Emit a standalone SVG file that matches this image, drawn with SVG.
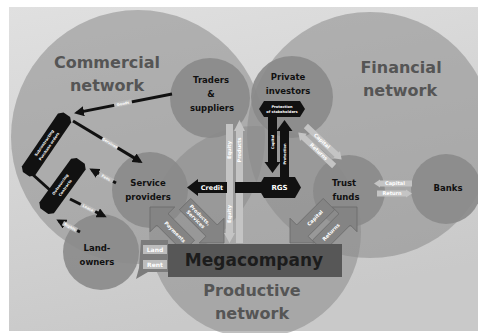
<svg xmlns="http://www.w3.org/2000/svg" width="478" height="333" viewBox="0 0 478 333">
<defs>
<linearGradient id="bg" x1="0" y1="0" x2="0.3" y2="1">
<stop offset="0" stop-color="#e0e0e0"/>
<stop offset="1" stop-color="#c9c9c9"/>
</linearGradient>
<marker id="ah" markerUnits="userSpaceOnUse" markerWidth="10" markerHeight="10" refX="7" refY="5" orient="auto">
<path d="M0,0 L10,5 L0,10 Z" fill="#111"/>
</marker>
<path id="blk" d="M0,0 L-17.5,-17.5 L-17.5,-8 L-55,-8 L-55,8 L-17.5,8 L-17.5,17.5 Z"/>
<style>
.net{font-family:"DejaVu Sans",sans-serif;font-weight:bold;font-size:16px;fill:#555;text-anchor:middle}
.nd{font-family:"DejaVu Sans",sans-serif;font-weight:bold;font-size:8.5px;fill:#111;text-anchor:middle}
.wl{font-family:"DejaVu Sans",sans-serif;font-weight:bold;font-size:5px;fill:#fff;text-anchor:middle}
.tn{font-family:"DejaVu Sans",sans-serif;font-weight:bold;font-size:3.6px;fill:#fff;text-anchor:middle}
.netc{fill:#8a8a8a;fill-opacity:0.55}
.nodec{fill:#8a8a8a;fill-opacity:0.9}
.blk{fill:#848484;stroke:#6a6a6a;stroke-width:0.8}
.lt{fill:#c4c4c4}
.bl{stroke:#111;stroke-width:3;fill:none}
.lb{fill:#bdbdbd}
</style>
</defs>
<rect width="478" height="333" fill="#fff"/>
<rect x="9" y="7" width="469" height="324" fill="url(#bg)"/>

<g id="commercial-network"><circle class="netc" cx="138" cy="137" r="127"/></g>
<g id="financial-network"><circle class="netc" cx="370" cy="135" r="123"/></g>
<g id="productive-network"><circle class="netc" cx="255" cy="232" r="106"/></g>
<g id="network-labels">
<text class="net" x="107" y="68">Commercial</text>
<text class="net" x="107" y="91">network</text>
<text class="net" x="401" y="73">Financial</text>
<text class="net" x="400" y="96">network</text>
<text class="net" x="252" y="296">Productive</text>
<text class="net" x="252" y="319">network</text>
</g>

<g id="traders"><circle class="nodec" cx="210" cy="98" r="40"/>
<text class="nd" x="211" y="83">Traders</text><text class="nd" x="211" y="97">&amp;</text><text class="nd" x="212" y="111">suppliers</text></g>
<g id="investors"><circle class="nodec" cx="292" cy="97" r="41"/>
<text class="nd" x="288" y="80">Private</text><text class="nd" x="288" y="94">investors</text></g>
<g id="service"><circle class="nodec" cx="150" cy="190" r="38"/>
<text class="nd" x="148" y="186">Service</text><text class="nd" x="148" y="200">providers</text></g>
<g id="trust"><circle class="nodec" cx="349" cy="191" r="36"/>
<text class="nd" x="344" y="186">Trust</text><text class="nd" x="346" y="200">funds</text></g>
<g id="banks"><circle class="nodec" cx="446" cy="189" r="35"/>
<text class="nd" x="448" y="191">Banks</text></g>
<g id="landowners"><circle class="nodec" cx="101" cy="252" r="38"/>
<text class="nd" x="97" y="251">Land-</text><text class="nd" x="97" y="265">owners</text></g>

<g id="connectors">
<!-- Land / Rent -->
<polygon points="168,240 141,240 139,268 136,279 148,272 168,272" fill="#7c7c7c"/>
<rect class="lb" x="143" y="245" width="24" height="9"/>
<text class="wl" x="155" y="251.5" style="font-size:6px">Land</text>
<rect class="lb" x="143" y="260" width="24" height="9"/>
<text class="wl" x="155" y="266.5" style="font-size:6px">Rent</text>

<!-- block arrows service <-> mega -->
<use href="#blk" class="blk" transform="translate(150,207) rotate(-135)"/>
<use href="#blk" class="blk" transform="translate(224,243) rotate(45)"/>
<g transform="translate(175,232) rotate(45)"><text class="wl" y="1.8">Payments</text></g>
<g transform="translate(198,217) rotate(45)"><text class="wl" y="-1">Products,</text><text class="wl" y="5">Services</text></g>

<!-- block arrows trust <-> mega -->
<use href="#blk" class="blk" transform="translate(290,243) rotate(135)"/>
<use href="#blk" class="blk" transform="translate(357,207) rotate(-45)"/>
<g transform="translate(315,218) rotate(-45)"><text class="wl" y="1.8">Capital</text></g>
<g transform="translate(331,232) rotate(-45)"><text class="wl" y="1.8">Returns</text></g>

<!-- trust <-> banks -->
<polygon class="lt" points="374,183.5 380,179.5 380,180.5 412,180.5 412,186.5 380,186.5 380,187.5"/>
<text class="wl" x="395" y="185.3">Capital</text>
<polygon class="lt" points="377,190.5 406,190.5 406,189.5 412,193.5 406,197.5 406,196.5 377,196.5"/>
<text class="wl" x="392" y="195.3">Return</text>

<!-- investors -> trust -->
<g transform="translate(320,146) rotate(43)">
<polygon class="lt" points="-24,-8 18,-8 18,-10 25,-5 18,0 18,-2 -24,-2"/>
<text class="wl" x="-2" y="-3.3">Capital</text>
<polygon class="lt" points="-25,5 -18,0 -18,2 24,2 24,8 -18,8 -18,10"/>
<text class="wl" x="3" y="6.7">Returns</text>
</g>

<!-- Equity / Products vertical -->
<polygon class="lt" points="226,124 233,124 233,233 235,233 229.5,243 224,233 226,233"/>
<polygon class="lt" points="236,243 243,243 243,131 245,131 239.5,120 234,131 236,131"/>
<text class="wl" transform="translate(229.5,150) rotate(-90)" dy="1.8">Equity</text>
<text class="wl" transform="translate(239.5,150) rotate(-90)" dy="1.8">Products</text>
<text class="wl" transform="translate(229.5,214) rotate(-90)" dy="1.8">Equity</text>

<!-- Credit -->
<path d="M187,187.5 L198,179 L198,182 L227,182 L227,193 L198,193 L198,196 Z" fill="#111"/>
<text class="wl" x="212" y="190" style="font-size:6.5px">Credit</text>
<rect x="235" y="182" width="26" height="11" fill="#111"/>

<!-- Protection <-> RGS -->
<polygon points="268,117 277,117 277,162 280.5,162 272.5,173 264.5,162 268,162" fill="#111"/>
<polygon points="280,177 289,177 289,131 292.5,131 284.5,120 276.5,131 280,131" fill="#111"/>
<text class="tn" transform="translate(272.5,142) rotate(-90)" dy="1.3">Capital</text>
<text class="tn" transform="translate(284.5,154) rotate(-90)" dy="1.3">Protection</text>

<!-- left black connectors -->
<line class="bl" x1="172" y1="94" x2="77" y2="112.6" marker-end="url(#ah)"/>
<line class="bl" x1="73" y1="121" x2="140" y2="161.4" marker-end="url(#ah)"/>
<line class="bl" x1="31" y1="173" x2="51" y2="191"/>
<line class="bl" x1="116" y1="183" x2="92" y2="170" marker-end="url(#ah)"/>
<line class="bl" x1="70" y1="199" x2="104" y2="216" marker-end="url(#ah)"/>
<line class="bl" x1="80" y1="232" x2="59" y2="221" marker-end="url(#ah)"/>
<g transform="translate(123,103.5) rotate(-11)"><rect x="-9" y="-2.5" width="18" height="5" fill="#bbb"/><text class="tn" y="1.3">Goods</text></g>
<g transform="translate(110,143) rotate(31)"><rect x="-9" y="-2.5" width="18" height="5" fill="#bbb"/><text class="tn" y="1.3">Services</text></g>
<g transform="translate(106,177.6) rotate(28)"><rect x="-8" y="-2.5" width="16" height="5" fill="#bbb"/><text class="tn" y="1.3">Fees</text></g>
<g transform="translate(88,208) rotate(27)"><rect x="-8" y="-2.5" width="16" height="5" fill="#bbb"/><text class="tn" y="1.3">Lease</text></g>
<g transform="translate(70,226.8) rotate(27.5)"><rect x="-8" y="-2.5" width="16" height="5" fill="#bbb"/><text class="tn" y="1.3">Rights</text></g>
</g>

<g id="banner-1" transform="translate(46.5,144.5) rotate(-55.6)">
<path d="M-36,-4 L-32,-8 L32,-8 L36,-4 L36,4 L32,8 L-32,8 L-36,4 Z" fill="#111"/>
<text class="tn" y="-1.5">Subcontracting</text>
<text class="tn" y="4.5">Purchase orders</text>
</g>
<g id="banner-2" transform="translate(62.5,186) rotate(-54)">
<path d="M-31,-5 L-27,-9 L27,-9 L31,-5 L31,5 L27,9 L-27,9 L-31,5 Z" fill="#111"/>
<text class="tn" y="-1.5">Outsourcing</text>
<text class="tn" y="4.5">Contracts</text>
</g>

<g id="protection">
<path d="M264,101 L300,101 L305,109 L300,117 L264,117 L259,109 Z" fill="#111"/>
<text class="tn" x="282" y="108">Protection</text>
<text class="tn" x="282" y="113">of stakeholders</text>
</g>
<g id="rgs">
<path d="M264,177 L295,177 L301,187.5 L295,198 L264,198 L258,187.5 Z" fill="#111"/>
<text class="wl" x="279.5" y="190" style="font-size:7px">RGS</text>
</g>

<g id="megacompany">
<rect x="168" y="244" width="174" height="33" fill="#575757"/>
<text x="254" y="266" style="font-family:'DejaVu Sans',sans-serif;font-weight:bold;font-size:17px;fill:#1c1c1c;text-anchor:middle">Megacompany</text>
</g>
</svg>
